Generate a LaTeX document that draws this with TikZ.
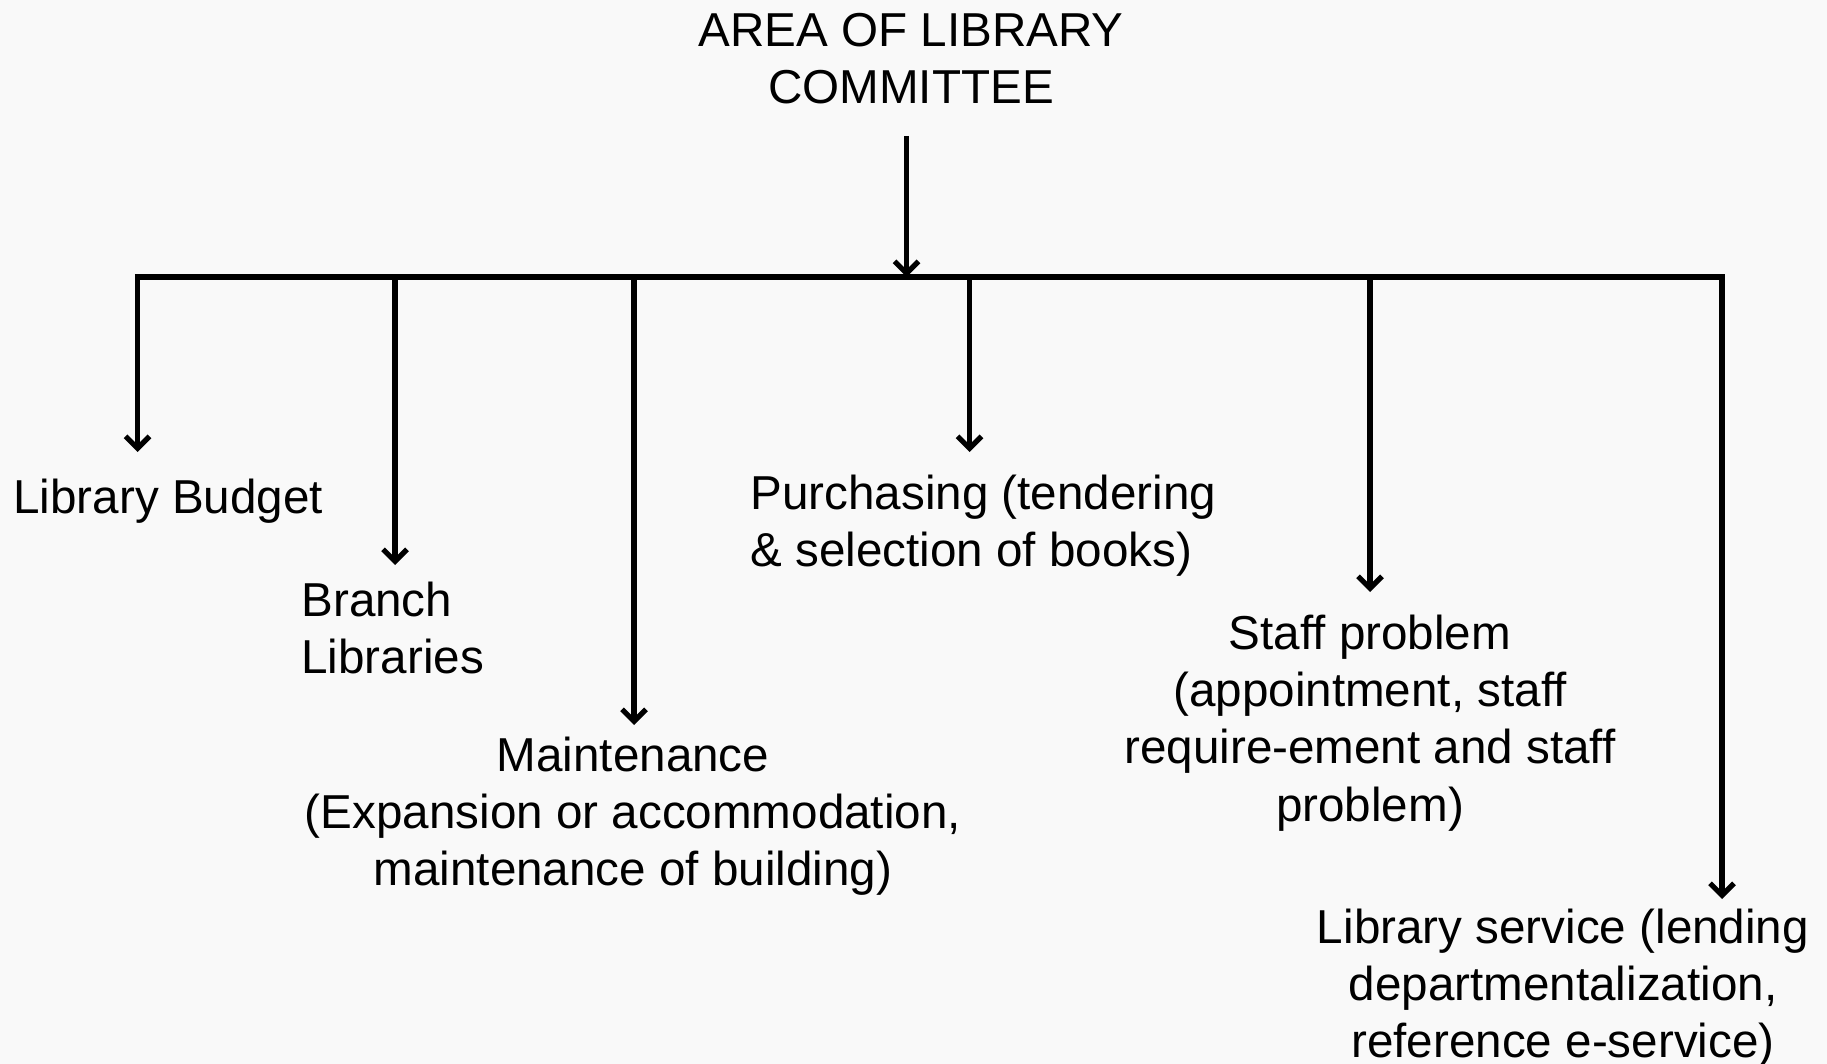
\documentclass[tikz,border=0pt]{standalone}
\usepackage{fontspec}
\setmainfont{Liberation Sans}
\usetikzlibrary{arrows.meta}
\definecolor{bg}{HTML}{F9F9F9}
\begin{document}
\begin{tikzpicture}[x=0.5pt,y=-0.5pt,
  lbl/.style={inner sep=0pt,font=\fontsize{23.8pt}{28.6pt}\selectfont},
  conn/.style={line width=2.6pt,-{Straight Barb[length=6pt,width=12pt,line width=2.6pt]}},
  barline/.style={line width=2.6pt}]
\fill[bg] (0,0) rectangle (1827,1064);
\useasboundingbox (0,0) rectangle (1827,1064);
% title
\node[lbl,align=center] (title) at (911,59) {AREA OF LIBRARY\\COMMITTEE};
\coordinate (ttop) at (906.5,136);
\coordinate (tbot) at (906.5,277);
\coordinate (bl) at (137.5,277);
\coordinate (br) at (1722,277);
\draw[barline] ([xshift=-1.3pt]bl) -- ([xshift=1.3pt]br);
\draw[conn] (ttop) -- (tbot);
% branch top points
\coordinate (b1) at (137.5,277);
\coordinate (b2) at (395,277);
\coordinate (b3) at (634,277);
\coordinate (b4) at (969.5,277);
\coordinate (b5) at (1370,277);
\coordinate (b6) at (1722,277);
% end points
\coordinate (e1) at (137.5,452);
\coordinate (e2) at (395,565);
\coordinate (e3) at (634,725);
\coordinate (e4) at (969.5,452);
\coordinate (e5) at (1370,592);
\coordinate (e6) at (1722,899);
\draw[conn] (b1) -- (e1);
\draw[conn] (b2) -- (e2);
\draw[conn] (b3) -- (e3);
\draw[conn] (b4) -- (e4);
\draw[conn] (b5) -- (e5);
\draw[conn] (b6) -- (e6);
% labels
\node[lbl,anchor=west] (n1) at (13,501) {Library Budget};
\node[lbl,anchor=west,align=left] (n2) at (301,628) {Branch\\Libraries};
\node[lbl,align=center] (n3) at (633,816) {Maintenance\\(Expansion or accommodation,\\maintenance of building)};
\node[lbl,anchor=west,align=left] (n4) at (750,526) {Purchasing (tendering\\\& selection of books)};
\node[lbl,align=center] (n5) at (1370,723) {Staff problem\\(appointment, staff\\require-ement and staff\\problem)};
\node[lbl,align=center] (n6) at (1563,988) {Library service (lending\\departmentalization,\\reference e-service)};
\end{tikzpicture}
\end{document}
